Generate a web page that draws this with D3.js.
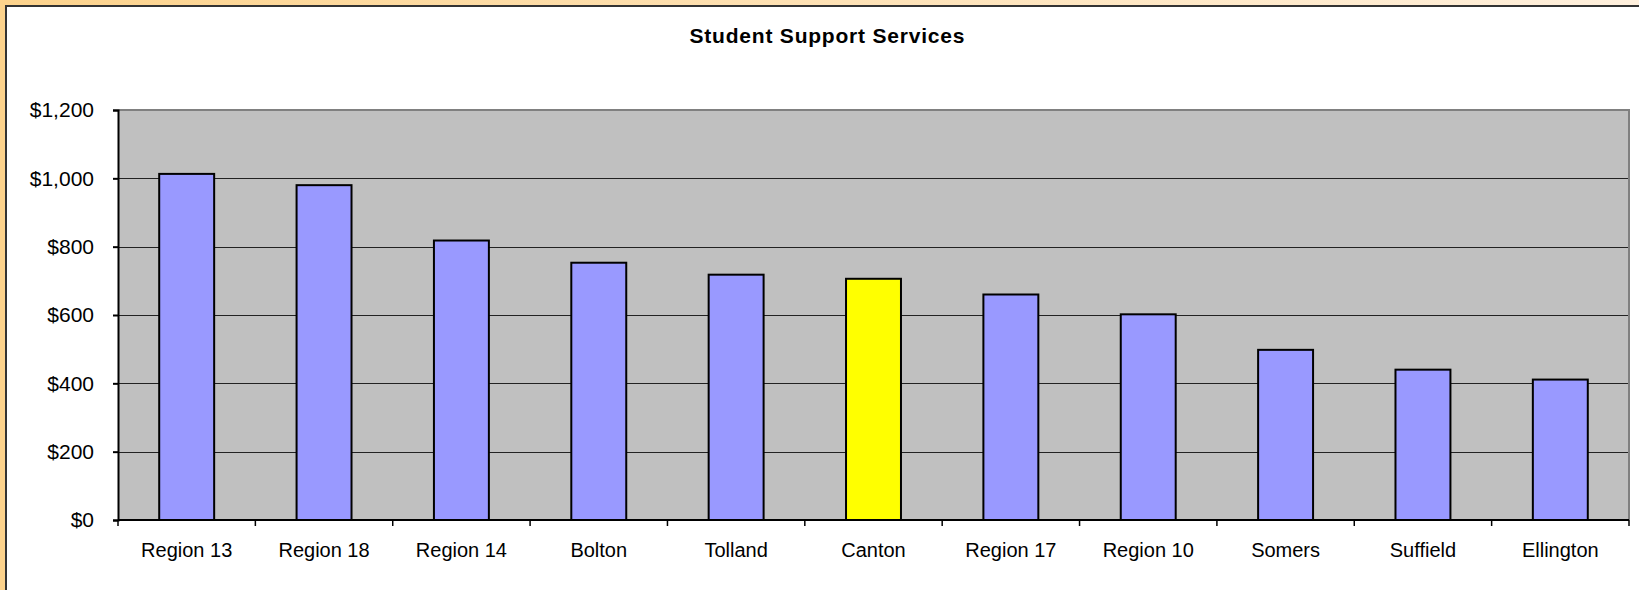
<!DOCTYPE html>
<html lang="en">
<head>
  <meta charset="UTF-8">
  <title>Student Support Services</title>
  <script src="https://d3js.org/d3.v7.min.js"></script>
  <style>
    body { margin: 0; background: #fff; }
    svg { display: block; font-family: Arial, "Liberation Sans", sans-serif; }
    .grid { stroke: #222; stroke-width: 1; }
    .bar { stroke: #000; stroke-width: 2; }
  </style>
</head>
<body>
  <svg width="1639" height="590"></svg>
  <script>
    const districts = ["Region 13", "Region 18", "Region 14", "Bolton", "Tolland", "Canton",
                       "Region 17", "Region 10", "Somers", "Suffield", "Ellington"];
    const spending = [1013, 980, 818, 753, 718, 706, 660, 602, 498, 440, 411];
    const highlight = "Canton";
    const yTicks = [0, 200, 400, 600, 800, 1000, 1200];

    const width = 1639, height = 590;
    const plot = { left: 118, right: 1629, top: 110, bottom: 520 };
    const svg = d3.select("svg");

    // frame: orange strip round the chart, lighter toward the right
    const defs = svg.append("defs");
    const grad = defs.append("linearGradient").attr("id", "frame").attr("x1", 0).attr("x2", 1);
    grad.append("stop").attr("offset", 0).attr("stop-color", "#fdd38c");
    grad.append("stop").attr("offset", 1).attr("stop-color", "#fff0dd");
    svg.append("rect").attr("width", width).attr("height", height).attr("fill", "url(#frame)");
    svg.append("rect").attr("x", 6).attr("y", 6).attr("width", width).attr("height", height).attr("fill", "#fff");
    svg.append("path").attr("d", `M6,${height} V6 H${width}`)
      .attr("fill", "none").attr("stroke", "#333").attr("stroke-width", 2);

    const x = d3.scaleBand().domain(districts)
      .range([plot.left, plot.right]).paddingInner(0.6).paddingOuter(0.3);
    const y = d3.scaleLinear().domain([0, 1200]).range([plot.bottom, plot.top]);

    // plot background
    svg.append("rect")
      .attr("x", plot.left).attr("y", plot.top)
      .attr("width", plot.right - plot.left).attr("height", plot.bottom - plot.top)
      .attr("fill", "#c0c0c0");

    // gridlines
    svg.selectAll(".grid")
      .data(yTicks.filter(d => d > 0 && d < 1200))
      .enter().append("line")
      .attr("class", "grid")
      .attr("x1", plot.left).attr("x2", plot.right)
      .attr("y1", d => Math.round(y(d)) + 0.5).attr("y2", d => Math.round(y(d)) + 0.5);

    // top and right border of plot area
    svg.append("path")
      .attr("d", `M${plot.left},${plot.top} H${plot.right} V${plot.bottom}`)
      .attr("fill", "none").attr("stroke", "#808080").attr("stroke-width", 2);

    // bars
    svg.selectAll(".bar")
      .data(districts.map((d, i) => ({ name: d, value: spending[i] })))
      .enter().append("rect")
      .attr("class", "bar")
      .attr("x", d => x(d.name))
      .attr("y", d => y(d.value))
      .attr("width", x.bandwidth())
      .attr("height", d => y(0) - y(d.value))
      .attr("fill", d => d.name === highlight ? "#ffff00" : "#9999ff");

    // y axis
    const yAxis = d3.axisLeft(y).tickValues(yTicks)
      .tickFormat(d => "$" + d3.format(",")(d))
      .tickSize(5).tickPadding(19);
    const gy = svg.append("g").attr("transform", `translate(${plot.left},0)`).call(yAxis);
    gy.select(".domain").attr("stroke", "#000").attr("stroke-width", 2);
    gy.selectAll(".tick line").attr("stroke", "#000").attr("stroke-width", 2);
    gy.selectAll("text").attr("font-size", 21).attr("fill", "#000")
      .style("font-family", "Arial, 'Liberation Sans', sans-serif");

    // x axis with ticks between categories
    const gx = svg.append("g");
    gx.append("line")
      .attr("x1", plot.left).attr("x2", plot.right)
      .attr("y1", plot.bottom).attr("y2", plot.bottom)
      .attr("stroke", "#000").attr("stroke-width", 2);
    const step = x.step();
    gx.selectAll(".xtick")
      .data(d3.range(districts.length + 1))
      .enter().append("line")
      .attr("x1", i => plot.left + i * step).attr("x2", i => plot.left + i * step)
      .attr("y1", plot.bottom).attr("y2", plot.bottom + 6)
      .attr("stroke", "#000").attr("stroke-width", 1.5);
    gx.selectAll(".xlabel")
      .data(districts)
      .enter().append("text")
      .attr("x", d => x(d) + x.bandwidth() / 2)
      .attr("y", 557)
      .attr("text-anchor", "middle")
      .attr("font-size", 20)
      .attr("fill", "#000")
      .text(d => d);

    // title
    svg.append("text")
      .attr("x", 827)
      .attr("y", 43)
      .attr("text-anchor", "middle")
      .attr("font-size", 21)
      .attr("font-weight", "bold")
      .attr("textLength", 275)
      .attr("lengthAdjust", "spacing")
      .text("Student Support Services");
  </script>
</body>
</html>
